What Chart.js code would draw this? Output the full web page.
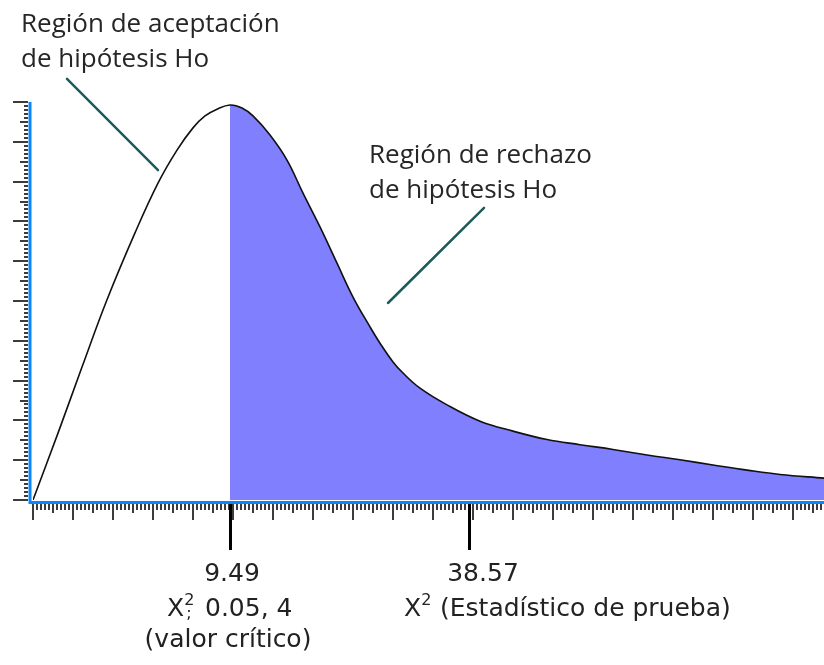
<!DOCTYPE html>
<html>
<head>
<meta charset="utf-8">
<script src="https://cdn.jsdelivr.net/npm/chart.js@4"></script>
<style>
  html, body { margin: 0; padding: 0; background: #fff; }
  #wrap { position: relative; width: 824px; height: 665px; }
</style>
</head>
<body>
<div id="wrap"><canvas id="chart"></canvas></div>
<script>
// Curve. x is in major-tick units, y in y-tick units.
const curveX = [0, 0.625, 1.225, 1.85, 2.55, 3.125, 3.6, 4.0, 4.3, 4.6, 4.925, 5.225, 5.5, 5.925, 6.35, 6.75, 7.175, 7.6, 8.0, 8.425, 8.675, 9.0, 9.25, 9.675, 10.35, 11.175, 12.0, 12.85, 13.675, 14.5, 15.35, 16.175, 17.0, 17.85, 18.675, 19.775];
const curveY = [0, 1.68, 3.34, 5.03, 6.71, 7.96, 8.79, 9.35, 9.65, 9.82, 9.925, 9.85, 9.65, 9.17, 8.54, 7.71, 6.86, 5.95, 5.10, 4.35, 3.94, 3.47, 3.19, 2.81, 2.39, 1.98, 1.73, 1.52, 1.39, 1.27, 1.13, 1.01, 0.88, 0.75, 0.64, 0.55];

// Marked values on the x axis: critical value and test statistic
const markX = [4.925, 10.9];
const markLabels = ['9.49', '38.57'];

const xMax = 19.775;
const yMax = 10;

// Callouts (placed in data units)
const notes = [
    { lines: ['Región de aceptación', 'de hipótesis Ho'], at: [-0.3, 11.76], from: [0.85, 10.58], to: [3.125, 8.29] },
    { lines: ['Región de rechazo', 'de hipótesis Ho'], at: [8.4, 8.47], from: [11.275, 7.34], to: [8.875, 4.95] }
];

const BLUE = '#0a86ff';
const FILL = '#8080ff';
const LABEL_FONT = "25px 'DejaVu Sans', sans-serif";
const SUP_FONT = "16px 'DejaVu Sans', sans-serif";
const NOTE_FONT = "26px 'Open Sans', sans-serif";

// Ruler ticks, axis lines and all the text
const rulerPlugin = {
    id: 'ruler',
    afterDatasetsDraw(chart) {
        const { ctx, chartArea: a, scales: { x, y } } = chart;
        ctx.save();

        // x ruler
        ctx.strokeStyle = '#3c3c3c';
        ctx.lineWidth = 2;
        ctx.beginPath();
        for (let i = 0; i <= Math.floor(xMax * 10); i++) {
            const px = Math.round(x.getPixelForValue(i / 10));
            const len = i % 10 === 0 ? 16 : (i % 5 === 0 ? 9 : 6);
            ctx.moveTo(px, a.bottom + 4);
            ctx.lineTo(px, a.bottom + 4 + len);
        }
        // y ruler
        for (let i = 0; i <= yMax * 10; i++) {
            const py = Math.round(y.getPixelForValue(i / 10));
            const len = i % 10 === 0 ? 15 : (i % 5 === 0 ? 8 : 4);
            ctx.moveTo(a.left - 5 - len, py);
            ctx.lineTo(a.left - 5, py);
        }
        ctx.stroke();

        // blue axis lines
        ctx.strokeStyle = BLUE;
        ctx.lineWidth = 3;
        ctx.beginPath();
        ctx.moveTo(a.left - 3, a.top);
        ctx.lineTo(a.left - 3, a.bottom + 4);
        ctx.moveTo(a.left - 4.5, a.bottom + 2.5);
        ctx.lineTo(a.right, a.bottom + 2.5);
        ctx.stroke();

        // long ticks for the marked values
        ctx.strokeStyle = '#000';
        ctx.lineWidth = 3;
        ctx.beginPath();
        markX.forEach(v => {
            const px = Math.round(x.getPixelForValue(v)) + 0.5;
            ctx.moveTo(px, a.bottom + 4);
            ctx.lineTo(px, a.bottom + 50);
        });
        ctx.stroke();

        // labels under the axis
        ctx.fillStyle = '#222';
        ctx.textBaseline = 'alphabetic';
        const c = x.getPixelForValue(markX[0]);
        const s = x.getPixelForValue(markX[1]);
        const b = a.bottom;

        ctx.font = LABEL_FONT;
        ctx.textAlign = 'center';
        ctx.fillText(markLabels[0], c + 2, b + 81);
        ctx.fillText(markLabels[1], s + 14, b + 81);
        ctx.fillText('(valor crítico)', c - 2, b + 147);

        ctx.textAlign = 'left';
        // X²; 0.05, 4
        let px = c - 63;
        ctx.fillText('X', px, b + 116);
        px += ctx.measureText('X').width;
        ctx.font = SUP_FONT;
        ctx.fillText('2', px, b + 105);
        ctx.fillText(';', px + 2, b + 118);
        ctx.font = LABEL_FONT;
        ctx.fillText('0.05, 4', c - 25, b + 116);
        // X² (Estadístico de prueba)
        px = s - 65;
        ctx.fillText('X', px, b + 116);
        px += ctx.measureText('X').width;
        ctx.font = SUP_FONT;
        ctx.fillText('2', px, b + 105);
        ctx.font = LABEL_FONT;
        ctx.fillText('(Estadístico de prueba)', s - 29, b + 116);

        // callouts
        ctx.strokeStyle = '#1b5b5a';
        ctx.lineWidth = 2.5;
        ctx.lineCap = 'round';
        ctx.font = NOTE_FONT;
        ctx.fillStyle = '#262626';
        notes.forEach(n => {
            const tx = x.getPixelForValue(n.at[0]);
            const ty = y.getPixelForValue(n.at[1]);
            n.lines.forEach((t, i) => ctx.fillText(t, tx, ty + i * 35));
            ctx.beginPath();
            ctx.moveTo(x.getPixelForValue(n.from[0]), y.getPixelForValue(n.from[1]));
            ctx.lineTo(x.getPixelForValue(n.to[0]), y.getPixelForValue(n.to[1]));
            ctx.stroke();
        });

        ctx.restore();
    }
};

const points = curveX.map((v, i) => ({ x: v, y: curveY[i] }));

new Chart(document.getElementById('chart'), {
    type: 'scatter',
    data: {
        datasets: [{
            data: points,
            showLine: true,
            borderColor: '#111',
            borderWidth: 1.6,
            pointRadius: 0,
            tension: 0.4,
            fill: 'origin',
            backgroundColor: 'rgba(0,0,0,0)',
            segment: {
                // shade the rejection region, right of the critical value
                backgroundColor: ctx => ctx.p0.parsed.x >= markX[0] ? FILL : 'rgba(0,0,0,0)'
            }
        }]
    },
    options: {
        responsive: true,
        maintainAspectRatio: false,
        animation: false,
        devicePixelRatio: 1,
        layout: { padding: { left: 33, right: 0, top: 102, bottom: 165 } },
        scales: {
            x: { type: 'linear', min: 0, max: xMax, display: false },
            y: { min: 0, max: yMax, display: false }
        },
        plugins: {
            legend: { display: false },
            tooltip: { enabled: false }
        }
    },
    plugins: [rulerPlugin]
});
</script>
</body>
</html>
